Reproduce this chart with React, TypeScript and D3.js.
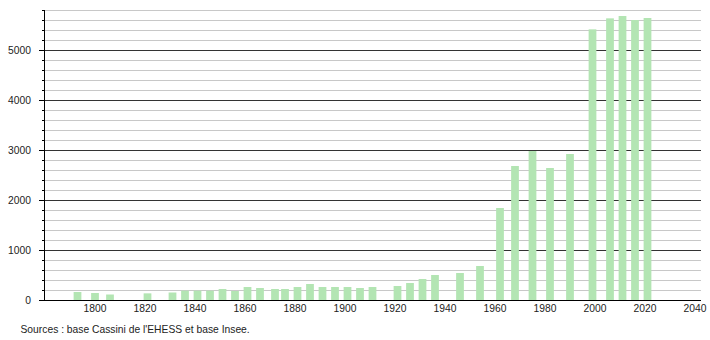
import React from "react";
import * as d3 from "d3";

const years = [1793, 1800, 1806, 1821, 1831, 1836, 1841, 1846, 1851, 1856, 1861, 1866, 1872, 1876, 1881, 1886, 1891, 1896, 1901, 1906, 1911, 1921, 1926, 1931, 1936, 1946, 1954, 1962, 1968, 1975, 1982, 1990, 1999, 2006, 2011, 2016, 2021];
const population = [160, 140, 110, 133, 150, 187, 187, 187, 220, 180, 260, 240, 220, 220, 260, 320, 260, 260, 260, 240, 260, 280, 340, 420, 500, 540, 680, 1840, 2680, 2980, 2640, 2920, 5413, 5633, 5680, 5600, 5640];
const xTickYears = [1800, 1820, 1840, 1860, 1880, 1900, 1920, 1940, 1960, 1980, 2000, 2020, 2040];
const yMajorTicks = [0, 1000, 2000, 3000, 4000, 5000];
const sourceText = "Sources : base Cassini de l'EHESS et base Insee.";

export default function App() {
  const W = 710, H = 340;
  const left = 44, right = 701, top = 10, bottom = 300;
  const x = d3.scaleLinear().domain([1780, 2040]).range([45, 695]);
  const y = d3.scaleLinear().domain([0, 5800]).range([bottom, top]);
  const minor = d3.range(200, 5801, 200).filter((v) => v % 1000 !== 0);
  const major = yMajorTicks.filter((v) => v > 0);
  const allTicks = d3.range(0, 5801, 200);
  const barHalf = 1.55;
  const font = "'Liberation Sans', Arial, sans-serif";

  return (
    <svg width={W} height={H} style={{ position: "absolute", left: 0, top: 0 }} fontFamily={font}>
      <rect x={0} y={0} width={W} height={H} fill="#fff" />
      {minor.map((v) => (
        <line key={"m" + v} x1={left} x2={right} y1={y(v)} y2={y(v)} stroke="#c8c8c8" strokeWidth={1} shapeRendering="crispEdges" />
      ))}
      {major.map((v) => (
        <line key={"M" + v} x1={left} x2={right} y1={y(v)} y2={y(v)} stroke="#333" strokeWidth={1} shapeRendering="crispEdges" />
      ))}
      {years.map((yr, i) => (
        <rect
          key={yr}
          x={x(yr - barHalf)}
          y={y(population[i])}
          width={x(yr + barHalf) - x(yr - barHalf)}
          height={y(0) - y(population[i])}
          fill="#b3e5b3"
        />
      ))}
      <line x1={left} x2={left} y1={top} y2={bottom} stroke="#000" strokeWidth={1} shapeRendering="crispEdges" />
      <line x1={left} x2={right} y1={bottom} y2={bottom} stroke="#000" strokeWidth={1} shapeRendering="crispEdges" />
      {allTicks.map((v) => (
        <line key={"t" + v} x1={v % 1000 === 0 ? left - 5 : left - 2} x2={left} y1={y(v)} y2={y(v)} stroke="#000" strokeWidth={1} shapeRendering="crispEdges" />
      ))}
      {yMajorTicks.map((v) => (
        <text key={"yl" + v} x={31} y={y(v)} dy="0.35em" textAnchor="end" fontSize={10.3} fill="#222">
          {v}
        </text>
      ))}
      {xTickYears.map((yr) => (
        <text key={"xl" + yr} x={x(yr)} y={312} textAnchor="middle" fontSize={10.3} fill="#222">
          {yr}
        </text>
      ))}
      <text x={20.5} y={333} fontSize={10.3} fill="#222">
        {sourceText}
      </text>
    </svg>
  );
}
